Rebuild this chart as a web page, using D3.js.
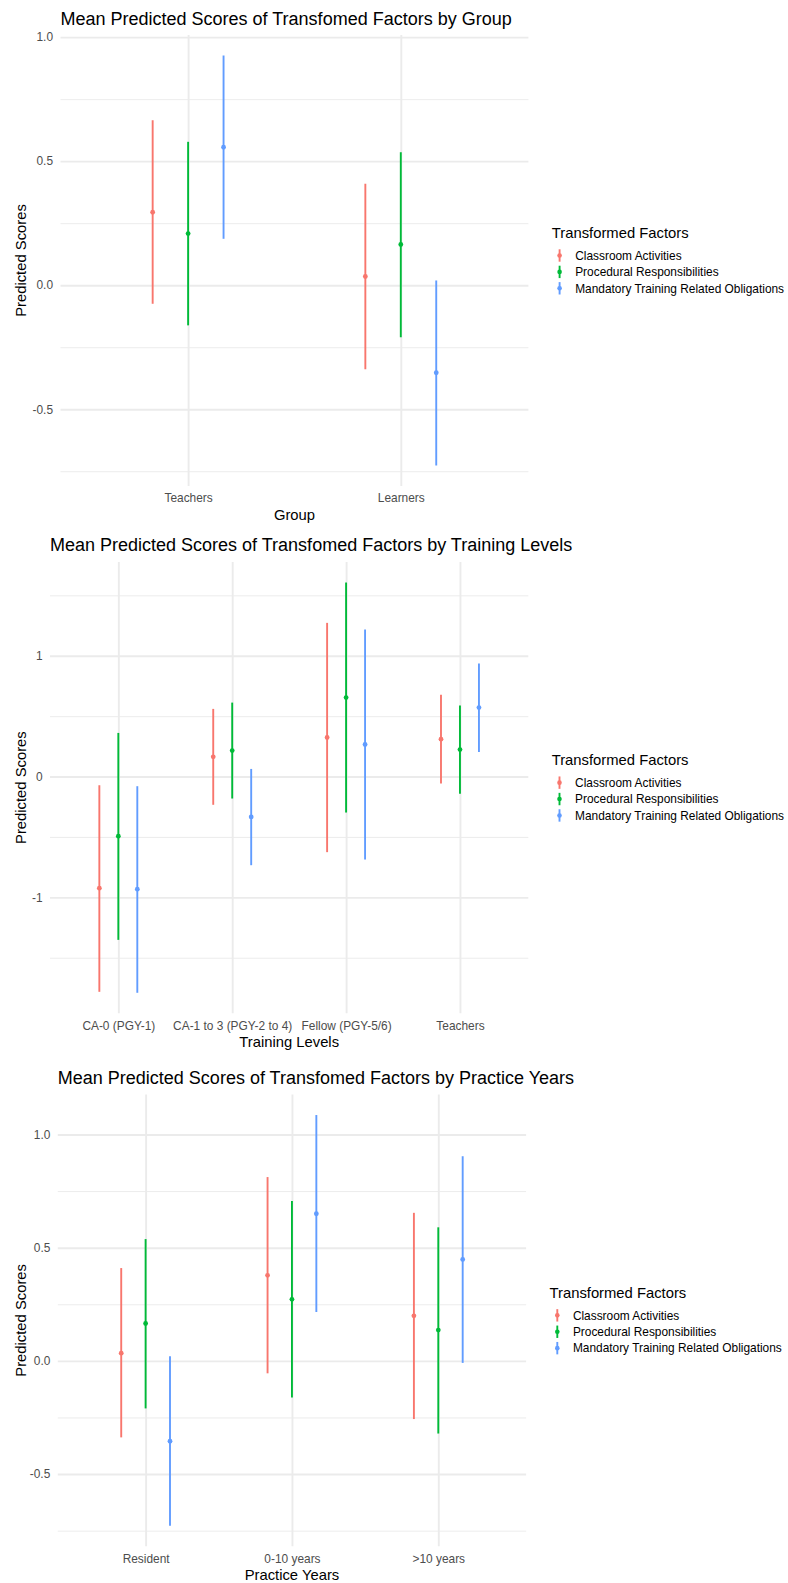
<!DOCTYPE html>
<html lang="en">
<head>
    <meta charset="UTF-8">
    <title>Mean Predicted Scores of Transfomed Factors</title>
    <script src="https://d3js.org/d3.v7.min.js"></script>
    <style>
        body {
            margin: 0;
            background: #fff;
        }

        svg {
            display: block;
            font-family: "Liberation Sans", Arial, Helvetica, sans-serif;
        }

        .grid line {
            stroke: #ebebeb;
        }

        .grid path, .axis path {
            display: none;
        }

        .axis text {
            fill: #4d4d4d;
            font-size: 11.9px;
            font-family: "Liberation Sans", Arial, Helvetica, sans-serif;
        }
    </style>
</head>
<body>
<script>

    var width = 788,
        height = 1583;

    var factors = ["Classroom Activities", "Procedural Responsibilities", "Mandatory Training Related Obligations"];
    var colors = ["#F8766D", "#00BA38", "#619CFF"];

    // by group  (rows = factors, columns = categories)
    var groupCats = ["Teachers", "Learners"];
    var groupMean = [[0.294, 0.035], [0.208, 0.164], [0.556, -0.353]];
    var groupLow = [[-0.075, -0.339], [-0.162, -0.210], [0.187, -0.727]];
    var groupHigh = [[0.665, 0.409], [0.578, 0.536], [0.926, 0.019]];
    var groupTicks = [-0.5, 0, 0.5, 1];
    var groupMinor = [-0.75, -0.25, 0.25, 0.75];

    // by training levels
    var trainCats = ["CA-0 (PGY-1)", "CA-1 to 3 (PGY-2 to 4)", "Fellow (PGY-5/6)", "Teachers"];
    var trainMean = [[-0.924, 0.163, 0.323, 0.309], [-0.494, 0.215, 0.654, 0.223], [-0.932, -0.334, 0.265, 0.571]];
    var trainLow = [[-1.782, -0.234, -0.626, -0.058], [-1.352, -0.182, -0.298, -0.143], [-1.790, -0.734, -0.687, 0.204]];
    var trainHigh = [[-0.072, 0.560, 1.272, 0.676], [0.361, 0.612, 1.606, 0.588], [-0.080, 0.063, 1.217, 0.935]];
    var trainTicks = [-1, 0, 1];
    var trainMinor = [-1.5, -0.5, 0.5, 1.5];

    // by practice years
    var practiceCats = ["Resident", "0-10 years", ">10 years"];
    var practiceMean = [[0.034, 0.378, 0.199], [0.165, 0.272, 0.136], [-0.355, 0.650, 0.448]];
    var practiceLow = [[-0.338, -0.055, -0.257], [-0.210, -0.162, -0.321], [-0.728, 0.216, -0.009]];
    var practiceHigh = [[0.410, 0.812, 0.654], [0.538, 0.706, 0.590], [0.020, 1.086, 0.904]];
    var practiceTicks = [-0.5, 0, 0.5, 1];
    var practiceMinor = [-0.75, -0.25, 0.25, 0.75];

    var panels = [
        {title: "Mean Predicted Scores of Transfomed Factors by Group", xTitle: "Group",
            cats: groupCats, mean: groupMean, low: groupLow, high: groupHigh,
            ticks: groupTicks, minor: groupMinor, digits: 1,
            left: 60.5, right: 528.4, top: 35, bottom: 486, titleY: 18.3},
        {title: "Mean Predicted Scores of Transfomed Factors by Training Levels", xTitle: "Training Levels",
            cats: trainCats, mean: trainMean, low: trainLow, high: trainHigh,
            ticks: trainTicks, minor: trainMinor, digits: 0,
            left: 50, right: 528.3, top: 562, bottom: 1013.3, titleY: 545},
        {title: "Mean Predicted Scores of Transfomed Factors by Practice Years", xTitle: "Practice Years",
            cats: practiceCats, mean: practiceMean, low: practiceLow, high: practiceHigh,
            ticks: practiceTicks, minor: practiceMinor, digits: 1,
            left: 57.8, right: 526.1, top: 1094.5, bottom: 1546.2, titleY: 1077.3}
    ];

    var svg = d3.select("body").append("svg")
        .attr("width", width)
        .attr("height", height);

    panels.forEach(drawPanel);

    function drawPanel(p) {
        var g = svg.append("g");

        var rows = [];
        p.mean.forEach(function(series, f) {
            series.forEach(function(m, j) {
                rows.push({cat: p.cats[j], f: f, mean: m, low: p.low[f][j], high: p.high[f][j]});
            });
        });

        // ggplot style 5% expansion of the data range
        var lo = d3.min(rows, function(d) { return d.low; }),
            hi = d3.max(rows, function(d) { return d.high; }),
            pad = (hi - lo) * 0.05;

        var y = d3.scaleLinear()
            .domain([lo - pad, hi + pad])
            .range([p.bottom, p.top]);

        var x = d3.scalePoint()
            .domain(p.cats)
            .range([p.left, p.right])
            .padding(0.6);

        var dodge = x.step() * 0.5 / 3;

        // grid
        g.append("g")
            .attr("class", "grid")
            .attr("transform", "translate(" + p.left + ",0)")
            .call(d3.axisLeft(y).tickValues(p.minor).tickSize(-(p.right - p.left)).tickFormat(""))
            .selectAll("line").attr("stroke-width", 0.95);

        g.append("g")
            .attr("class", "grid")
            .attr("transform", "translate(" + p.left + ",0)")
            .call(d3.axisLeft(y).tickValues(p.ticks).tickSize(-(p.right - p.left)).tickFormat(""))
            .selectAll("line").attr("stroke-width", 1.9);

        g.append("g")
            .attr("class", "grid")
            .attr("transform", "translate(0," + p.bottom + ")")
            .call(d3.axisBottom(x).tickSize(-(p.bottom - p.top)).tickFormat(""))
            .selectAll("line").attr("stroke-width", 1.9);

        // axes text
        g.append("g")
            .attr("class", "axis")
            .attr("transform", "translate(" + p.left + ",0)")
            .call(d3.axisLeft(y).tickValues(p.ticks).tickSize(0).tickPadding(7.5)
                .tickFormat(function(d) { return d.toFixed(p.digits); }));

        g.append("g")
            .attr("class", "axis")
            .attr("transform", "translate(0," + p.bottom + ")")
            .call(d3.axisBottom(x).tickSize(0).tickPadding(8));

        // point ranges
        var marks = g.append("g").selectAll(".pr")
            .data(rows)
            .enter().append("g")
            .attr("class", "pr")
            .attr("transform", function(d) { return "translate(" + (x(d.cat) + (d.f - 1) * dodge) + ",0)"; });

        marks.append("line")
            .attr("y1", function(d) { return y(d.low); })
            .attr("y2", function(d) { return y(d.high); })
            .attr("stroke", function(d) { return colors[d.f]; })
            .attr("stroke-width", 1.9);

        marks.append("circle")
            .attr("cy", function(d) { return y(d.mean); })
            .attr("r", 2.4)
            .attr("fill", function(d) { return colors[d.f]; });

        // titles
        g.append("text")
            .attr("x", p.left)
            .attr("y", p.titleY)
            .attr("dy", "0.36em")
            .style("font-size", "18px")
            .text(p.title);

        g.append("text")
            .attr("x", (p.left + p.right) / 2)
            .attr("y", p.bottom + 28.7)
            .attr("dy", "0.36em")
            .attr("text-anchor", "middle")
            .style("font-size", "14.8px")
            .text(p.xTitle);

        var cy = (p.top + p.bottom) / 2;

        g.append("text")
            .attr("transform", "translate(20.5," + cy + ") rotate(-90)")
            .attr("dy", "0.36em")
            .attr("text-anchor", "middle")
            .style("font-size", "14.8px")
            .text("Predicted Scores");

        // legend
        var legend = g.append("g")
            .attr("transform", "translate(" + (p.right + 23.4) + "," + cy + ")");

        legend.append("text")
            .attr("y", -27.5)
            .attr("dy", "0.36em")
            .style("font-size", "14.8px")
            .text("Transformed Factors");

        var item = legend.selectAll(".item")
            .data(factors)
            .enter().append("g")
            .attr("class", "item")
            .attr("transform", function(d, i) { return "translate(0," + (-5 + i * 16.4) + ")"; });

        item.append("line")
            .attr("x1", 7.8).attr("x2", 7.8)
            .attr("y1", -6.2).attr("y2", 6.2)
            .attr("stroke", function(d, i) { return colors[i]; })
            .attr("stroke-width", 1.9);

        item.append("circle")
            .attr("cx", 7.8)
            .attr("r", 2.3)
            .attr("fill", function(d, i) { return colors[i]; });

        item.append("text")
            .attr("x", 23.4)
            .attr("dy", "0.36em")
            .style("font-size", "11.9px")
            .text(function(d) { return d; });
    }

</script>
</body>
</html>
